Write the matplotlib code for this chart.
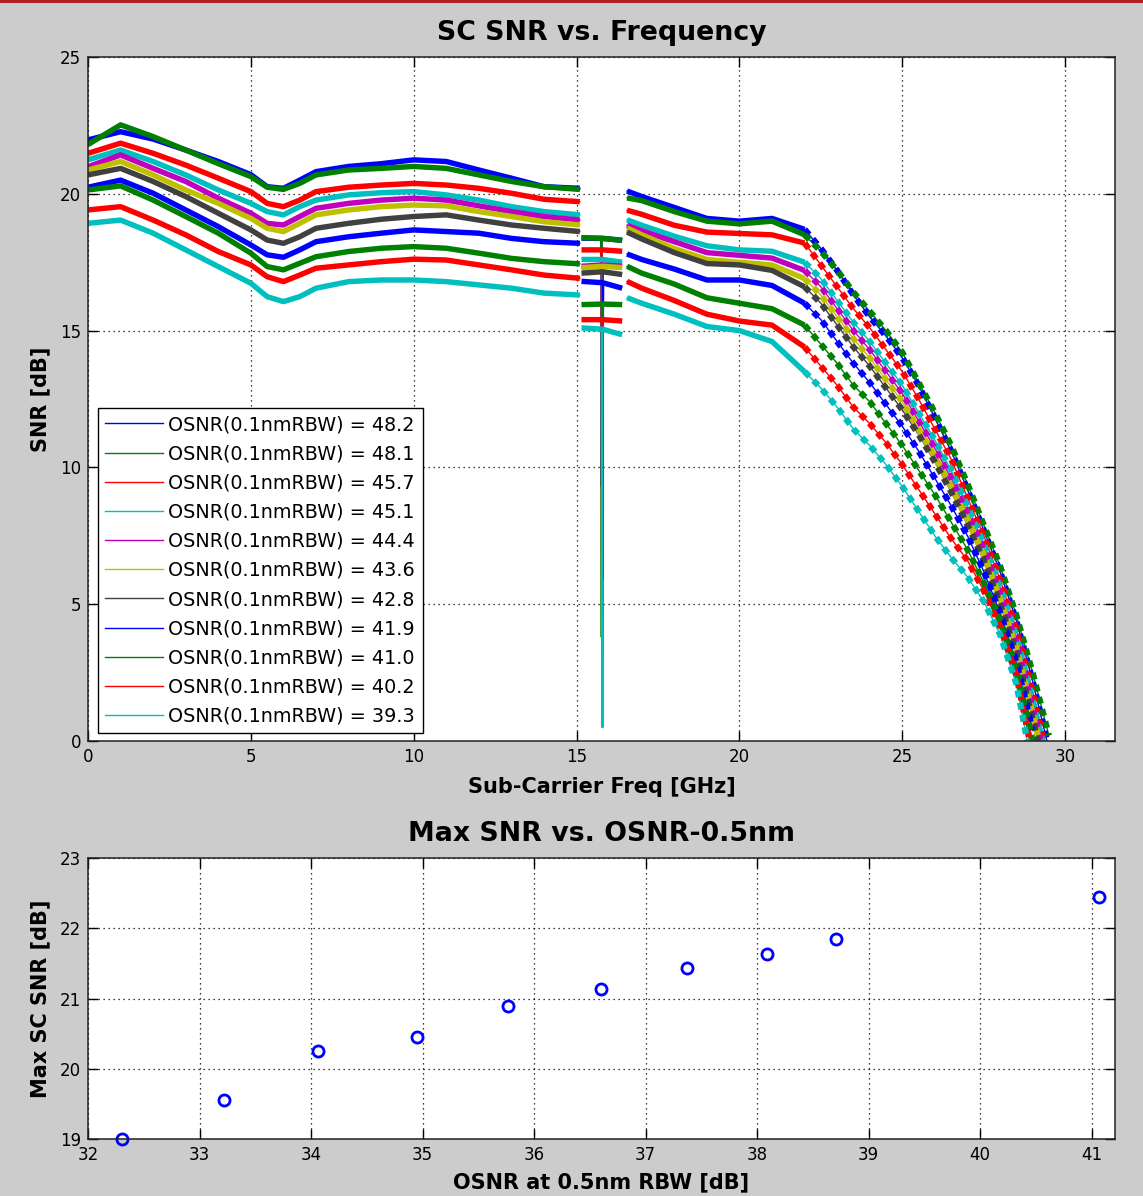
import numpy as np
import matplotlib
matplotlib.use("Agg")
import matplotlib.pyplot as plt
from matplotlib.patches import Rectangle

plt.rcParams['font.family'] = ['DejaVu Sans']

# ---------------- data ----------------
labels = ["OSNR(0.1nmRBW) = 48.2", "OSNR(0.1nmRBW) = 48.1", "OSNR(0.1nmRBW) = 45.7",
          "OSNR(0.1nmRBW) = 45.1", "OSNR(0.1nmRBW) = 44.4", "OSNR(0.1nmRBW) = 43.6",
          "OSNR(0.1nmRBW) = 42.8", "OSNR(0.1nmRBW) = 41.9", "OSNR(0.1nmRBW) = 41.0",
          "OSNR(0.1nmRBW) = 40.2", "OSNR(0.1nmRBW) = 39.3"]

# segment A: 0 .. 15.1 GHz
freq_a = [0, 1, 2, 3, 4, 5, 5.5, 6, 6.5, 7, 8, 9, 10, 11, 12, 13, 14, 15.1]
snr_a = [
    [21.97, 22.27, 22.0, 21.6, 21.18, 20.7, 20.26, 20.2, 20.5, 20.81, 21.0, 21.1, 21.24, 21.18, 20.87, 20.57, 20.26, 20.2],
    [21.8, 22.52, 22.09, 21.6, 21.1, 20.63, 20.24, 20.16, 20.38, 20.69, 20.87, 20.93, 21.0, 20.93, 20.69, 20.45, 20.26, 20.16],
    [21.48, 21.85, 21.48, 21.05, 20.57, 20.08, 19.65, 19.53, 19.77, 20.08, 20.24, 20.32, 20.38, 20.32, 20.2, 20.02, 19.8, 19.71],
    [21.24, 21.6, 21.18, 20.69, 20.14, 19.65, 19.35, 19.23, 19.53, 19.77, 19.96, 20.04, 20.08, 19.96, 19.77, 19.53, 19.35, 19.23],
    [20.99, 21.42, 20.93, 20.45, 19.84, 19.29, 18.92, 18.86, 19.17, 19.47, 19.65, 19.77, 19.84, 19.77, 19.56, 19.35, 19.17, 19.04],
    [20.87, 21.18, 20.69, 20.14, 19.65, 19.1, 18.74, 18.62, 18.92, 19.23, 19.41, 19.53, 19.59, 19.56, 19.35, 19.17, 18.98, 18.86],
    [20.69, 20.93, 20.45, 19.9, 19.29, 18.68, 18.31, 18.19, 18.43, 18.74, 18.92, 19.07, 19.17, 19.23, 19.04, 18.86, 18.74, 18.62],
    [20.24, 20.5, 20.02, 19.41, 18.8, 18.13, 17.77, 17.68, 17.95, 18.25, 18.43, 18.56, 18.68, 18.62, 18.56, 18.37, 18.25, 18.19],
    [20.14, 20.29, 19.77, 19.17, 18.56, 17.83, 17.34, 17.22, 17.46, 17.7, 17.89, 18.01, 18.07, 18.01, 17.83, 17.64, 17.52, 17.44],
    [19.41, 19.53, 19.04, 18.5, 17.89, 17.4, 16.97, 16.79, 17.03, 17.28, 17.4, 17.52, 17.61, 17.58, 17.4, 17.22, 17.03, 16.91],
    [18.92, 19.04, 18.56, 17.95, 17.34, 16.73, 16.24, 16.06, 16.24, 16.55, 16.79, 16.85, 16.85, 16.79, 16.67, 16.55, 16.37, 16.3],
]

# segment B: short offset pieces 15.15 .. 16.4 GHz
freq_b = [15.15, 15.8, 16.4]
snr_b = [
    [18.38, 18.37, 18.3], [18.4, 18.37, 18.3], [17.95, 17.95, 17.9], [17.6, 17.6, 17.5],
    [17.35, 17.4, 17.35], [17.3, 17.35, 17.3], [17.1, 17.15, 17.05], [16.8, 16.75, 16.55],
    [15.95, 15.97, 15.95], [15.4, 15.4, 15.35], [15.1, 15.05, 14.85],
]

# dip near 15.8 GHz
dip_freq = [15.76, 15.76, 15.77, 15.78, 15.78, 15.79, 15.8, 15.81, 15.8, 15.79, 15.78]
dip_snr = [9.3, 3.8, 5.3, 0.7, 1.2, 1.6, 5.9, 13.0, 0.5, 2.3, 0.5]

# segment C: 16.55 .. 22 GHz
freq_c = [16.55, 17, 18, 19, 20, 21, 22]
snr_c = [
    [20.1, 19.9, 19.5, 19.1, 19.0, 19.1, 18.7],
    [19.85, 19.75, 19.35, 19.0, 18.9, 19.0, 18.5],
    [19.4, 19.25, 18.85, 18.6, 18.55, 18.5, 18.2],
    [19.05, 18.85, 18.45, 18.1, 17.95, 17.9, 17.5],
    [18.85, 18.65, 18.25, 17.85, 17.75, 17.65, 17.2],
    [18.75, 18.5, 18.0, 17.6, 17.5, 17.4, 16.9],
    [18.6, 18.35, 17.85, 17.45, 17.4, 17.2, 16.6],
    [17.8, 17.6, 17.25, 16.85, 16.85, 16.65, 16.0],
    [17.35, 17.1, 16.7, 16.2, 16.0, 15.8, 15.2],
    [16.8, 16.55, 16.1, 15.6, 15.35, 15.2, 14.4],
    [16.2, 16.0, 15.6, 15.15, 15.0, 14.6, 13.5],
]

# segment D: roll-off 22 .. 29.5 GHz
freq_d = [22, 22.5, 23, 23.5, 24, 24.5, 25, 25.5, 26, 26.5, 27, 27.5, 28, 28.5, 29, 29.5]
nan = float('nan')
snr_d = [
    [18.7, 18.0, 17.2, 16.3, 15.5, 14.8, 14.0, 13.0, 11.8, 10.6, 9.2, 7.7, 6.2, 4.4, 2.2, -0.3],
    [18.5, 17.9, 17.2, 16.4, 15.7, 15.0, 14.2, 13.1, 12.0, 10.8, 9.4, 7.9, 6.4, 4.6, 2.5, 0.2],
    [18.2, 17.4, 16.6, 15.8, 15.1, 14.3, 13.5, 12.5, 11.4, 10.3, 8.9, 7.5, 5.9, 4.1, 1.8, -0.8],
    [17.5, 16.9, 16.1, 15.3, 14.6, 13.8, 13.0, 12.0, 11.0, 9.9, 8.6, 7.2, 5.6, 3.8, 1.5, -1.0],
    [17.2, 16.6, 15.8, 15.0, 14.3, 13.5, 12.7, 11.7, 10.7, 9.6, 8.3, 7.0, 5.4, 3.6, 1.2, -1.2],
    [16.9, 16.3, 15.5, 14.7, 14.0, 13.2, 12.4, 11.4, 10.4, 9.3, 8.1, 6.8, 5.2, 3.4, 1.0, -1.5],
    [16.6, 16.0, 15.2, 14.4, 13.7, 12.9, 12.1, 11.2, 10.2, 9.1, 7.9, 6.6, 5.0, 3.2, 0.8, -1.6],
    [16.0, 15.4, 14.6, 13.8, 13.1, 12.3, 11.5, 10.6, 9.6, 8.6, 7.5, 6.2, 4.7, 2.9, 0.4, nan],
    [15.2, 14.5, 13.8, 13.0, 12.4, 11.6, 10.8, 9.9, 9.0, 8.0, 7.0, 5.8, 4.4, 2.6, 0.0, nan],
    [14.4, 13.7, 13.0, 12.2, 11.6, 10.9, 10.1, 9.2, 8.3, 7.4, 6.6, 5.5, 4.2, 2.4, -0.5, nan],
    [13.5, 12.9, 12.2, 11.4, 10.8, 10.1, 9.3, 8.4, 7.5, 6.7, 6.0, 5.1, 3.9, 2.1, -1.0, nan],
]

# bottom plot
osnr_05 = [32.305, 33.22, 34.06, 34.95, 35.77, 36.6, 37.37, 38.09, 38.71, 41.07]
max_snr = [19.0, 19.55, 20.25, 20.45, 20.9, 21.14, 21.44, 21.64, 21.84, 22.44]

colors = [(0, 0, 1), (0, 0.5, 0), (1, 0, 0), (0, 0.75, 0.75), (0.75, 0, 0.75),
          (0.75, 0.75, 0), (0.25, 0.25, 0.25), (0, 0, 1), (0, 0.5, 0), (1, 0, 0), (0, 0.75, 0.75)]

# ---------------- figure ----------------
W, H = 1143, 1196
fig = plt.figure(figsize=(W / 100, H / 100), dpi=100, facecolor='#cccccc')
fig.patches.append(Rectangle((0, 1 - 2.5 / H), 1, 2.5 / H, transform=fig.transFigure,
                             facecolor='#b22222', edgecolor='none'))

def ax_rect(l, t, r, b):
    return [l / W, 1 - b / H, (r - l) / W, (b - t) / H]

ax1 = fig.add_axes(ax_rect(88, 57, 1115, 741))
ax2 = fig.add_axes(ax_rect(88, 858, 1115, 1139))

tick_fs = 12
title_fs = 19.3
label_fs = 15
for ax in (ax1, ax2):
    ax.set_facecolor('white')
    ax.grid(True, linestyle=(0, (1, 3)), color='black', linewidth=0.9)
    ax.tick_params(direction='in', length=7, width=1, top=True, right=True,
                   labelsize=tick_fs, colors='black', pad=5)
    for s in ax.spines.values():
        s.set_linewidth(1.1)
        s.set_color('#222222')

# top plot
handles = []
for i in range(11):
    c = colors[i]
    # thin traces
    h, = ax1.plot(freq_a, snr_a[i], color=c, lw=1.0)
    ax1.plot(freq_c + freq_d[1:], snr_c[i] + snr_d[i][1:], color=c, lw=1.0)
    ax1.plot([dip_freq[i] - 0.02, dip_freq[i], dip_freq[i] + 0.02],
             [snr_b[i][1], dip_snr[i], snr_b[i][1]], color=c, lw=1.0)
    handles.append(h)
for i in range(11):
    c = colors[i]
    ax1.plot(freq_a, snr_a[i], color=c, lw=3.9, solid_capstyle='butt')
    ax1.plot(freq_b, snr_b[i], color=c, lw=3.9, solid_capstyle='butt')
    ax1.plot(freq_c, snr_c[i], color=c, lw=3.9, solid_capstyle='butt')
    ax1.plot(freq_d, snr_d[i], color=c, lw=4.5, linestyle=(0, (1.1, 0.9)),
             dash_capstyle='butt')

ax1.set_xlim(0, 31.53)
ax1.set_ylim(0, 25)
ax1.set_xticks([0, 5, 10, 15, 20, 25, 30])
ax1.set_yticks([0, 5, 10, 15, 20, 25])
ax1.set_title('SC SNR vs. Frequency', fontsize=title_fs, fontweight='bold', pad=12)
ax1.set_xlabel('Sub-Carrier Freq [GHz]', fontsize=label_fs, fontweight='bold', labelpad=8)
ax1.set_ylabel('SNR [dB]', fontsize=label_fs, fontweight='bold', labelpad=7)

leg = ax1.legend(handles, labels, loc='lower left', bbox_to_anchor=(0.0097, 0.0117),
                 borderaxespad=0, fontsize=13.8, handlelength=3.0, handletextpad=0.3,
                 labelspacing=0.53, borderpad=0.38, fancybox=False, framealpha=1,
                 edgecolor='black')
leg.get_frame().set_linewidth(1.0)

# bottom plot
ax2.plot(osnr_05, max_snr, linestyle='none', marker='o', markersize=8,
         markerfacecolor='none', markeredgecolor=(0, 0, 1), markeredgewidth=2,
         clip_on=False)
ax2.set_xlim(32, 41.21)
ax2.set_ylim(19, 23)
ax2.set_xticks(list(range(32, 42)))
ax2.set_yticks([19, 20, 21, 22, 23])
ax2.set_title('Max SNR vs. OSNR-0.5nm', fontsize=title_fs, fontweight='bold', pad=12)
ax2.set_xlabel('OSNR at 0.5nm RBW [dB]', fontsize=label_fs, fontweight='bold', labelpad=6)
ax2.set_ylabel('Max SC SNR [dB]', fontsize=label_fs, fontweight='bold', labelpad=7)

fig.savefig('out.png', dpi=100, facecolor=fig.get_facecolor())
